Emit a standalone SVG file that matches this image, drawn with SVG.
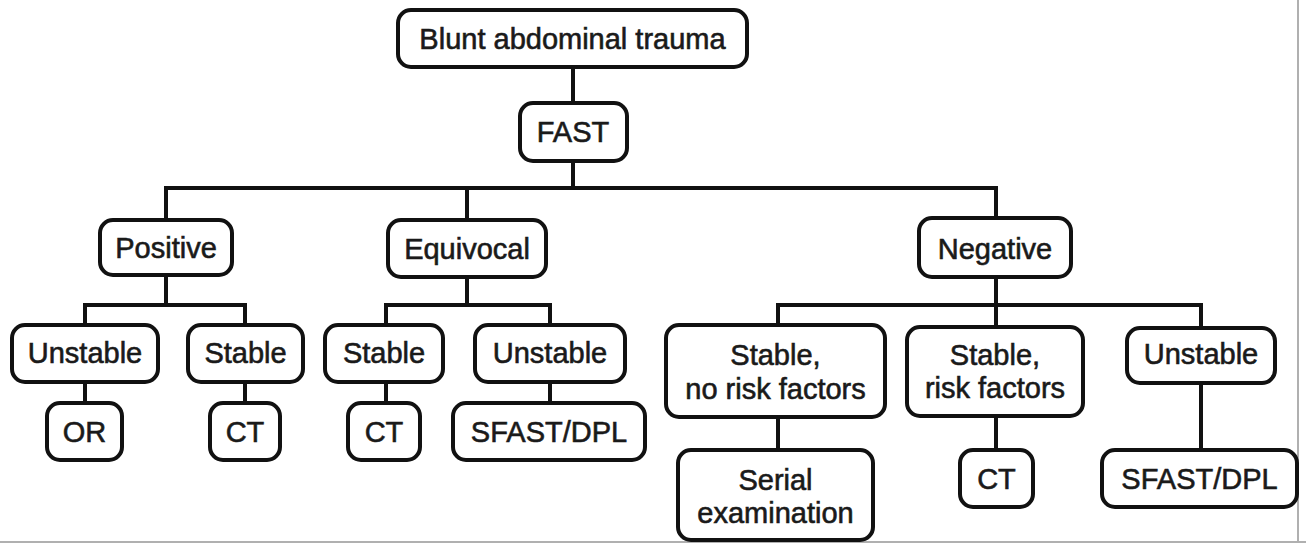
<svg xmlns="http://www.w3.org/2000/svg" width="1306" height="544" viewBox="0 0 1306 544">
<style>
.box{fill:#fff;stroke:#111;stroke-width:4}
.t{font-family:"Liberation Sans",Arial,sans-serif;font-size:29px;fill:#1a1a1a;stroke:#1a1a1a;stroke-width:0.6;text-anchor:middle}
.c{fill:none;stroke:#111;stroke-width:4;stroke-linecap:square}
.frame{stroke:#b0b0b0;stroke-width:2;fill:none}
</style>
<rect width="1306" height="544" fill="#fff"/>
<line class="frame" x1="1298" y1="0" x2="1298" y2="542"/>
<line class="frame" x1="0" y1="542" x2="1306" y2="542"/>
<g id="connectors">
<path class="c" d="M573 67V103M573 161V188M166 188H996M166 188V220M467 188V220M996 188V218"/>
<path class="c" d="M166 275V305M85 305H245M85 305V325M245 305V325M85 382V403M245 382V403"/>
<path class="c" d="M467 277V305M386 305H550M386 305V325M550 305V325M386 382V403M550 382V403"/>
<path class="c" d="M996 277V305M778 305H1201M778 305V325M996 305V327M1201 305V328M778 417V450M996 416V450M1201 383V450"/>
</g>
<g id="n-trauma"><rect class="box" x="398" y="10" width="349" height="57" rx="13"/><text class="t" x="572.5" y="49">Blunt abdominal trauma</text></g>
<g id="n-fast"><rect class="box" x="520" y="103" width="107" height="58" rx="13"/><text class="t" x="573" y="142">FAST</text></g>
<g id="n-positive"><rect class="box" x="100" y="220" width="132" height="55" rx="13"/><text class="t" x="166" y="258">Positive</text></g>
<g id="n-equivocal"><rect class="box" x="388" y="220" width="158" height="57" rx="13"/><text class="t" x="467" y="259">Equivocal</text></g>
<g id="n-negative"><rect class="box" x="919" y="218" width="152" height="59" rx="13"/><text class="t" x="995" y="259">Negative</text></g>
<g id="n-p-unstable"><rect class="box" x="12" y="325" width="146" height="57" rx="13"/><text class="t" x="85" y="363">Unstable</text></g>
<g id="n-p-stable"><rect class="box" x="188" y="325" width="115" height="57" rx="13"/><text class="t" x="245.5" y="363">Stable</text></g>
<g id="n-e-stable"><rect class="box" x="325" y="325" width="118" height="57" rx="13"/><text class="t" x="384" y="363">Stable</text></g>
<g id="n-e-unstable"><rect class="box" x="475" y="325" width="150" height="57" rx="13"/><text class="t" x="550" y="363">Unstable</text></g>
<g id="n-n-stable-norisk"><rect class="box" x="666" y="325" width="219" height="92" rx="13"/><text class="t" x="775.5" y="365">Stable,</text><text class="t" x="775.5" y="399">no risk factors</text></g>
<g id="n-n-stable-risk"><rect class="box" x="907" y="327" width="176" height="89" rx="13"/><text class="t" x="995" y="365">Stable,</text><text class="t" x="995" y="398">risk factors</text></g>
<g id="n-n-unstable"><rect class="box" x="1127" y="328" width="148" height="55" rx="13"/><text class="t" x="1201" y="364">Unstable</text></g>
<g id="n-or"><rect class="box" x="47" y="403" width="75" height="57" rx="13"/><text class="t" x="84.5" y="442">OR</text></g>
<g id="n-p-ct"><rect class="box" x="210" y="403" width="70" height="57" rx="13"/><text class="t" x="245" y="442">CT</text></g>
<g id="n-e-ct"><rect class="box" x="348" y="403" width="72" height="57" rx="13"/><text class="t" x="384" y="442">CT</text></g>
<g id="n-e-sfast"><rect class="box" x="453" y="403" width="192" height="57" rx="13"/><text class="t" x="549" y="442">SFAST/DPL</text></g>
<g id="n-serial"><rect class="box" x="678" y="450" width="195" height="90" rx="13"/><text class="t" x="775.5" y="490">Serial</text><text class="t" x="775.5" y="523">examination</text></g>
<g id="n-n-ct"><rect class="box" x="960" y="450" width="73" height="57" rx="13"/><text class="t" x="996.5" y="489">CT</text></g>
<g id="n-n-sfast"><rect class="box" x="1102" y="450" width="195" height="57" rx="13"/><text class="t" x="1199.5" y="489">SFAST/DPL</text></g>
</svg>
